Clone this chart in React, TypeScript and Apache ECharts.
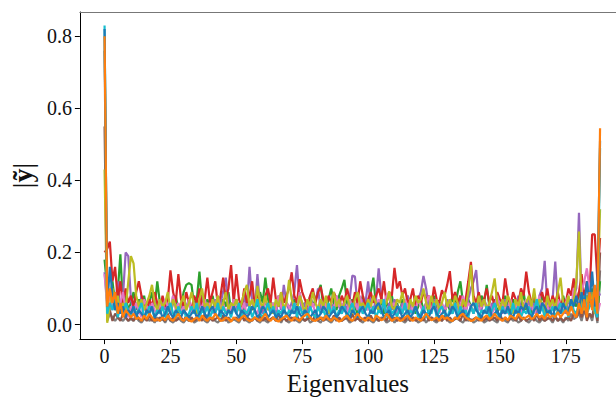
import React, { useEffect, useRef } from "react";
import * as echarts from "echarts";

const xTicks = [0, 25, 50, 75, 100, 125, 150, 175];
const yTicks = [0, 0.2, 0.4, 0.6, 0.8];

const red = [
  .20,.21,.23,.12,.16,.07,.12,.05,.10,.06,
  .08,.05,.09,.12,.08,.06,.04,.07,.05,.09,
  .06,.04,.08,.05,.07,.15,.09,.06,.14,.07,
  .05,.09,.06,.04,.08,.06,.10,.05,.07,.13,
  .06,.09,.12,.05,.08,.13,.07,.10,.165,.06,
  .14,.07,.05,.10,.06,.08,.12,.05,.09,.06,
  .04,.08,.10,.06,.13,.07,.05,.09,.06,.08,
  .10,.145,.08,.06,.126,.09,.07,.05,.08,.10,
  .06,.09,.104,.07,.05,.08,.06,.09,.07,.05,
  .08,.06,.10,.07,.05,.09,.06,.12,.08,.05,
  .07,.09,.06,.08,.10,.07,.12,.06,.09,.08,
  .157,.10,.12,.08,.10,.06,.07,.10,.05,.08,
  .06,.09,.07,.08,.05,.105,.07,.06,.095,.08,
  .11,.148,.07,.09,.06,.08,.05,.07,.12,.174,
  .08,.06,.09,.05,.07,.10,.06,.08,.05,.09,
  .07,.06,.128,.08,.05,.09,.07,.06,.10,.08,
  .147,.09,.06,.08,.05,.07,.09,.06,.10,.05,
  .08,.06,.09,.05,.07,.06,.10,.08,.128,.06,
  .09,.14,.07,.12,.08,.25,.25,.12,.24,
];

const purple = [
  .145,.06,.04,.09,.05,.12,.04,.08,.20,.19,
  .07,.04,.06,.03,.08,.05,.03,.06,.04,.07,
  .05,.03,.07,.04,.06,.03,.08,.05,.04,.06,
  .03,.05,.07,.04,.06,.03,.05,.08,.04,.06,
  .05,.03,.07,.04,.06,.09,.13,.05,.04,.07,
  .04,.06,.03,.08,.05,.16,.06,.04,.14,.05,
  .03,.07,.04,.06,.05,.03,.07,.04,.11,.06,
  .04,.06,.09,.165,.07,.04,.06,.03,.08,.05,
  .06,.10,.04,.07,.05,.03,.06,.04,.08,.05,
  .03,.06,.04,.07,.136,.133,.05,.04,.07,.06,
  .12,.05,.04,.07,.156,.08,.05,.03,.06,.04,
  .07,.05,.03,.06,.04,.08,.05,.03,.06,.07,
  .09,.135,.10,.05,.04,.07,.03,.06,.05,.04,
  .07,.05,.03,.06,.04,.08,.05,.03,.07,.10,
  .12,.151,.06,.04,.07,.05,.03,.06,.04,.08,
  .05,.03,.07,.04,.06,.05,.03,.08,.04,.06,
  .05,.07,.04,.06,.03,.08,.10,.177,.05,.04,
  .07,.175,.05,.04,.06,.03,.07,.05,.08,.10,
  .31,.06,.04,.07,.05,.09,.06,.10,.08,
];

const green = [
  .18,.10,.07,.12,.06,.09,.195,.05,.08,.04,
  .06,.09,.04,.07,.05,.08,.04,.06,.09,.05,
  .12,.06,.04,.07,.05,.03,.06,.08,.04,.05,
  .09,.11,.115,.11,.05,.07,.147,.06,.04,.07,
  .05,.08,.04,.06,.03,.07,.05,.09,.04,.06,
  .07,.04,.06,.03,.08,.05,.04,.07,.05,.09,
  .06,.13,.07,.04,.06,.03,.08,.05,.04,.06,
  .05,.03,.07,.04,.09,.05,.06,.03,.08,.05,
  .07,.09,.11,.05,.04,.07,.10,.06,.04,.08,
  .10,.124,.06,.04,.07,.05,.03,.06,.08,.04,
  .06,.09,.13,.05,.04,.07,.03,.06,.05,.08,
  .04,.06,.03,.07,.05,.08,.04,.06,.03,.05,
  .07,.04,.06,.03,.05,.08,.04,.06,.05,.03,
  .06,.04,.08,.05,.09,.12,.06,.04,.07,.05,
  .03,.06,.04,.08,.06,.11,.05,.04,.07,.03,
  .06,.04,.08,.05,.03,.07,.04,.06,.05,.09,
  .04,.06,.03,.07,.05,.04,.08,.06,.03,.05,
  .07,.04,.06,.03,.08,.05,.04,.06,.07,.05,
  .09,.06,.04,.08,.05,.10,.07,.03,.12,
];

const olive = [
  .43,.005,.05,.10,.04,.08,.03,.06,.04,.12,
  .19,.17,.08,.05,.07,.04,.06,.08,.11,.06,
  .04,.07,.05,.06,.09,.04,.07,.05,.03,.06,
  .08,.04,.06,.09,.05,.03,.07,.10,.05,.06,
  .04,.07,.05,.08,.03,.06,.09,.04,.06,.05,
  .07,.04,.06,.09,.11,.05,.07,.04,.107,.06,
  .05,.08,.04,.06,.03,.07,.05,.09,.04,.06,
  .124,.07,.05,.04,.08,.06,.03,.07,.05,.09,
  .06,.04,.07,.05,.08,.03,.06,.09,.05,.07,
  .04,.06,.08,.05,.03,.07,.09,.05,.06,.04,
  .07,.05,.08,.06,.04,.07,.05,.06,.092,.05,
  .04,.07,.06,.09,.05,.03,.07,.05,.08,.06,
  .07,.10,.06,.04,.08,.05,.07,.04,.06,.09,
  .05,.07,.04,.08,.06,.03,.07,.05,.09,.165,
  .06,.04,.08,.05,.07,.04,.06,.09,.128,.06,
  .04,.07,.05,.08,.06,.03,.07,.05,.09,.04,
  .06,.08,.05,.10,.04,.07,.06,.03,.08,.05,
  .07,.04,.09,.13,.06,.05,.08,.04,.07,.12,
  .258,.06,.04,.08,.05,.09,.03,.07,.32,
];

const pink = [
  .14,.05,.08,.04,.07,.03,.06,.09,.04,.02,
  .05,.03,.06,.04,.02,.07,.05,.03,.06,.04,
  .03,.06,.04,.07,.05,.03,.08,.04,.06,.03,
  .05,.04,.07,.03,.06,.04,.02,.05,.07,.04,
  .06,.03,.05,.08,.04,.06,.03,.05,.04,.07,
  .03,.05,.04,.06,.02,.05,.07,.04,.03,.06,
  .04,.07,.05,.03,.06,.04,.08,.05,.03,.06,
  .05,.03,.06,.04,.09,.05,.03,.07,.04,.06,
  .03,.05,.07,.04,.06,.03,.05,.04,.08,.05,
  .06,.04,.03,.07,.05,.06,.04,.08,.03,.05,
  .04,.06,.03,.05,.07,.04,.06,.08,.09,.05,
  .06,.03,.05,.04,.07,.05,.03,.06,.04,.07,
  .05,.03,.06,.08,.04,.05,.07,.03,.06,.04,
  .05,.07,.04,.06,.03,.05,.08,.04,.06,.05,
  .03,.06,.04,.05,.07,.04,.06,.03,.05,.08,
  .04,.06,.05,.03,.07,.04,.05,.06,.03,.05,
  .07,.04,.06,.03,.05,.08,.04,.06,.05,.03,
  .06,.04,.07,.05,.03,.06,.08,.04,.10,.07,
  .05,.09,.12,.156,.10,.06,.04,.03,.06,
];

const cyan = [
  .83,.03,.06,.04,.08,.02,.05,.03,.06,.04,
  .02,.05,.03,.04,.06,.02,.03,.05,.04,.02,
  .04,.03,.05,.02,.04,.06,.03,.02,.05,.03,
  .04,.02,.03,.05,.03,.06,.02,.04,.03,.05,
  .02,.04,.03,.06,.02,.05,.03,.04,.02,.05,
  .03,.06,.02,.04,.03,.05,.02,.04,.07,.03,
  .02,.04,.06,.03,.05,.02,.04,.03,.05,.02,
  .04,.03,.06,.02,.05,.03,.04,.02,.05,.03,
  .02,.05,.03,.04,.02,.06,.03,.05,.02,.04,
  .03,.05,.02,.04,.06,.03,.02,.05,.03,.04,
  .06,.03,.05,.02,.04,.03,.07,.02,.05,.03,
  .04,.02,.05,.03,.06,.02,.04,.03,.05,.02,
  .03,.05,.02,.04,.03,.06,.02,.04,.05,.03,
  .02,.04,.03,.06,.02,.05,.03,.04,.02,.05,
  .03,.06,.02,.04,.03,.05,.02,.04,.06,.03,
  .02,.05,.03,.04,.02,.06,.03,.05,.02,.04,
  .03,.05,.02,.04,.07,.03,.05,.02,.04,.03,
  .05,.02,.04,.06,.03,.05,.02,.07,.04,.03,
  .06,.04,.08,.03,.05,.07,.04,.02,.49,
];

const blue = [
  .82,.05,.16,.08,.04,.06,.03,.05,.02,.04,
  .03,.05,.02,.04,.03,.02,.04,.03,.05,.02,
  .03,.04,.02,.03,.05,.03,.02,.04,.03,.02,
  .04,.03,.02,.03,.04,.02,.03,.05,.03,.02,
  .04,.05,.03,.02,.04,.03,.02,.04,.03,.05,
  .03,.02,.04,.03,.02,.03,.05,.04,.02,.03,
  .05,.04,.02,.03,.04,.02,.03,.02,.04,.03,
  .02,.04,.03,.05,.03,.02,.04,.03,.02,.03,
  .04,.02,.03,.05,.04,.02,.03,.04,.02,.03,
  .05,.04,.03,.02,.04,.03,.02,.04,.05,.03,
  .02,.04,.03,.05,.06,.04,.02,.03,.04,.02,
  .03,.05,.04,.02,.03,.04,.02,.03,.05,.03,
  .02,.04,.03,.02,.04,.05,.03,.02,.03,.04,
  .02,.03,.05,.04,.02,.03,.04,.02,.03,.05,
  .06,.04,.03,.02,.04,.03,.05,.02,.03,.04,
  .02,.04,.03,.05,.03,.02,.04,.03,.05,.04,
  .06,.03,.02,.04,.05,.03,.06,.05,.03,.04,
  .02,.05,.04,.03,.06,.04,.03,.07,.05,.08,
  .04,.09,.05,.12,.06,.147,.05,.10,.51,
];

const orange = [
  .80,.05,.10,.06,.09,.03,.06,.02,.04,.03,
  .02,.03,.015,.02,.01,.025,.015,.03,.02,.01,
  .015,.01,.02,.012,.025,.015,.01,.02,.03,.015,
  .01,.02,.012,.008,.015,.02,.01,.025,.015,.01,
  .02,.015,.03,.02,.01,.012,.02,.015,.008,.02,
  .015,.01,.02,.025,.015,.01,.012,.02,.015,.01,
  .02,.03,.015,.01,.02,.012,.008,.015,.02,.025,
  .015,.01,.02,.015,.01,.02,.025,.03,.02,.012,
  .01,.015,.02,.012,.025,.015,.01,.02,.015,.008,
  .012,.02,.025,.015,.01,.02,.03,.02,.015,.01,
  .02,.015,.01,.025,.02,.012,.015,.03,.02,.01,
  .015,.02,.01,.012,.02,.025,.015,.01,.02,.015,
  .01,.02,.03,.02,.012,.015,.02,.01,.025,.015,
  .02,.012,.01,.02,.015,.025,.03,.02,.015,.01,
  .012,.02,.015,.01,.02,.025,.015,.02,.03,.02,
  .015,.01,.02,.012,.025,.02,.015,.03,.02,.015,
  .02,.025,.015,.02,.03,.02,.025,.015,.03,.02,
  .025,.02,.035,.02,.03,.04,.025,.05,.03,.02,
  .06,.03,.07,.02,.09,.04,.11,.03,.545,
];

const brown = [
  .55,.02,.04,.01,.03,.02,.01,.03,.02,.01,
  .02,.01,.03,.015,.01,.02,.01,.025,.01,.02,
  .01,.02,.015,.01,.03,.01,.02,.01,.015,.02,
  .01,.025,.01,.02,.01,.015,.02,.01,.03,.01,
  .02,.01,.015,.02,.01,.025,.01,.02,.01,.015,
  .02,.01,.03,.01,.02,.015,.01,.02,.01,.025,
  .01,.02,.01,.015,.02,.01,.03,.01,.02,.01,
  .015,.02,.01,.025,.01,.02,.01,.015,.02,.01,
  .03,.01,.02,.01,.015,.02,.01,.025,.01,.02,
  .01,.015,.02,.01,.03,.01,.02,.01,.015,.02,
  .01,.025,.01,.02,.01,.015,.02,.01,.03,.01,
  .02,.01,.015,.02,.01,.025,.01,.02,.01,.015,
  .02,.01,.03,.01,.02,.015,.01,.02,.01,.025,
  .01,.02,.01,.015,.02,.01,.03,.01,.02,.01,
  .015,.02,.01,.025,.01,.02,.01,.015,.02,.01,
  .03,.01,.02,.01,.015,.02,.01,.025,.01,.02,
  .01,.015,.02,.01,.03,.01,.02,.01,.015,.02,
  .01,.025,.01,.02,.01,.015,.02,.01,.03,.02,
  .04,.02,.05,.01,.03,.02,.06,.01,.20,
];

const gray = [
  .76,.01,.03,.02,.01,.02,.015,.01,.02,.01,
  .015,.01,.02,.01,.005,.015,.02,.01,.015,.005,
  .02,.01,.015,.005,.02,.01,.005,.015,.02,.01,
  .005,.015,.01,.02,.005,.01,.015,.02,.01,.005,
  .015,.02,.01,.005,.015,.01,.02,.005,.01,.015,
  .01,.005,.02,.015,.01,.005,.015,.02,.01,.005,
  .02,.01,.005,.015,.02,.01,.015,.005,.02,.01,
  .005,.015,.02,.01,.005,.015,.01,.02,.005,.01,
  .015,.01,.005,.02,.015,.01,.005,.015,.02,.01,
  .01,.02,.015,.005,.01,.015,.02,.01,.005,.015,
  .02,.01,.005,.015,.01,.02,.015,.005,.01,.02,
  .005,.015,.02,.01,.005,.015,.01,.02,.015,.005,
  .01,.02,.005,.015,.02,.01,.005,.015,.01,.02,
  .015,.005,.01,.02,.015,.01,.005,.02,.01,.015,
  .005,.01,.02,.015,.005,.01,.02,.015,.01,.005,
  .02,.015,.01,.005,.02,.01,.015,.005,.01,.02,
  .01,.005,.015,.02,.01,.005,.015,.01,.02,.015,
  .005,.02,.01,.015,.005,.02,.01,.03,.015,.02,
  .03,.01,.04,.02,.03,.01,.05,.004,.15,
];

const seriesList: [string, number[]][] = [
  ["#7f7f7f", gray],
  ["#8c564b", brown],
  ["#2ca02c", green],
  ["#9467bd", purple],
  ["#d62728", red],
  ["#e377c2", pink],
  ["#bcbd22", olive],
  ["#17becf", cyan],
  ["#1f77b4", blue],
  ["#ff7f0e", orange],
];

const FONT = "'Liberation Serif', 'DejaVu Serif', serif";

export default function App() {
  const ref = useRef<HTMLDivElement>(null);
  useEffect(() => {
    if (!ref.current) return;
    const chart = echarts.init(ref.current, undefined, { renderer: "svg" });
    const xMin = -9.36;
    const xMax = 194.05;
    chart.setOption({
      animation: false,
      backgroundColor: "#ffffff",
      grid: { left: 79, right: 0, top: 12, bottom: 59.5, containLabel: false },
      xAxis: [
        {
          type: "value",
          min: xMin,
          max: xMax,
          position: "bottom",
          name: "Eigenvalues",
          nameLocation: "middle",
          nameGap: 30,
          nameTextStyle: { fontFamily: FONT, fontSize: 25, color: "#111" },
          splitLine: { show: false },
          axisLine: { show: true, onZero: false, lineStyle: { color: "#000", width: 1 } },
          axisTick: { show: true, length: 5, customValues: xTicks, lineStyle: { color: "#000" } },
          axisLabel: {
            customValues: xTicks,
            fontFamily: FONT,
            fontSize: 20,
            color: "#111",
            margin: 7,
            formatter: (v: number) => String(v),
          },
        },
        {
          type: "value",
          min: xMin,
          max: xMax,
          position: "top",
          splitLine: { show: false },
          axisLine: { show: true, onZero: false, lineStyle: { color: "#777", width: 1.2 } },
          axisTick: { show: false },
          axisLabel: { show: false },
        },
      ],
      yAxis: {
        type: "value",
        min: -0.0405,
        max: 0.8675,
        name: "{a||}{b|ỹ}{a||}",
        nameLocation: "middle",
        nameGap: 41,
        nameRotate: 90,
        nameTextStyle: {
          rich: {
            a: { fontFamily: FONT, fontSize: 28, color: "#111" },
            b: { fontFamily: FONT, fontSize: 28, fontWeight: "bold", color: "#111" },
          },
        },
        splitLine: { show: false },
        axisLine: { show: true, onZero: false, lineStyle: { color: "#000", width: 1 } },
        axisTick: { show: true, length: 5, customValues: yTicks, lineStyle: { color: "#000" } },
        axisLabel: {
          customValues: yTicks,
          fontFamily: FONT,
          fontSize: 20,
          color: "#111",
          margin: 8,
          formatter: (v: number) => v.toFixed(1),
        },
      },
      series: seriesList.map(([color, vals]) => ({
        type: "line",
        xAxisIndex: 0,
        data: vals.map((v, i) => [i, v]),
        showSymbol: false,
        symbol: "none",
        clip: true,
        lineStyle: { color, width: 2.2 },
        itemStyle: { color },
        emphasis: { disabled: true },
      })),
    });
    return () => chart.dispose();
  }, []);
  return (
    <div
      ref={ref}
      style={{ position: "absolute", left: 0, top: 0, width: 616, height: 401 }}
    />
  );
}
